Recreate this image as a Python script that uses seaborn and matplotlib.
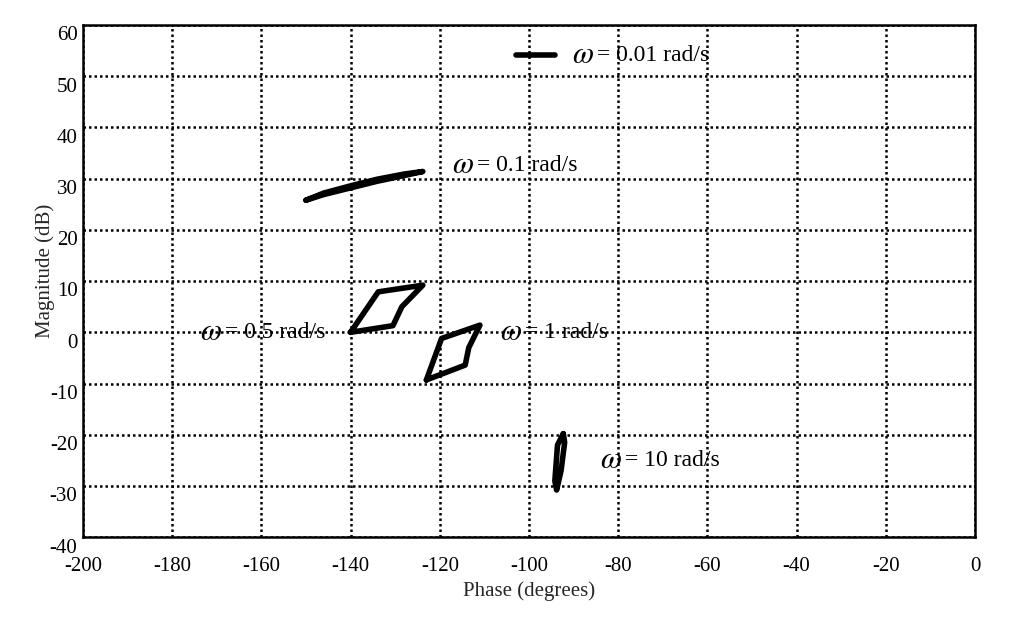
# packages
import numpy as np
import pandas as pd
import seaborn as sns
import matplotlib.pyplot as plt
import matplotlib.transforms as mtransforms

# curves (phase in deg, magnitude in dB)
phase_001 = [-103.0, -94.2]
mag_001 = [54.2, 54.2]

phase_01 = [-150.0, -146.0, -140.0, -134.0, -128.0, -123.8, -128.0, -134.0, -140.0, -146.0, -150.0]
mag_01 = [25.8, 26.9, 28.2, 29.5, 30.6, 31.4, 30.9, 29.9, 28.6, 27.2, 25.8]

phase_05 = [-140.0, -133.8, -123.8, -128.5, -130.5, -140.0]
mag_05 = [0.0, 7.9, 9.2, 5.0, 1.3, 0.0]

phase_1 = [-123.0, -119.6, -111.0, -113.5, -114.3, -123.0]
mag_1 = [-9.3, -1.2, 1.4, -3.0, -6.4, -9.3]

phase_10 = [-92.3, -92.0, -92.8, -93.8, -94.2, -93.6, -92.3]
mag_10 = [-19.8, -21.5, -27.0, -30.8, -29.0, -22.0, -19.8]

labels = ["= 0.01 rad/s", "= 0.1 rad/s", "= 0.5 rad/s", "= 1 rad/s", "= 10 rad/s"]
label_x = [-90.3, -117.3, -173.8, -106.5, -84.1]
label_y = [54.0, 32.5, 0.0, 0.0, -25.0]

xticks = np.arange(-200, 1, 20)
yticks = np.arange(-40, 61, 10)

# one long table for seaborn
frames = []
for name, ph, mg in [("0.01", phase_001, mag_001), ("0.1", phase_01, mag_01),
                     ("0.5", phase_05, mag_05), ("1", phase_1, mag_1), ("10", phase_10, mag_10)]:
    frames.append(pd.DataFrame({"phase": ph, "mag": mg, "curve": name}))
df = pd.concat(frames, ignore_index=True)

sns.set_style("white")
plt.rcParams["font.family"] = ["Liberation Serif", "DejaVu Serif"]
plt.rcParams["mathtext.fontset"] = "stix"
plt.rcParams["axes.unicode_minus"] = False

fig = plt.figure(figsize=(10.12, 6.21), dpi=100)
ax = fig.add_axes([0.082, 0.135, 0.8814, 0.8247])

sns.lineplot(data=df, x="phase", y="mag", units="curve", estimator=None, sort=False,
             color="black", linewidth=4, ax=ax, legend=False)

for txt, lx, ly in zip(labels, label_x, label_y):
    ax.text(lx, ly, r"$\omega$", fontsize=22, ha="left", va="center", color="black")
    ax.text(lx + 5.6, ly, txt, fontsize=17, ha="left", va="center", color="black")

ax.set_xlim(-200, 0)
ax.set_ylim(-40, 60)
ax.set_xticks(xticks)
ax.set_yticks(yticks)
ax.grid(True, color="black", linestyle=(0, (1, 1.2)), linewidth=1.8)
for sp in ax.spines.values():
    sp.set_visible(True)
    sp.set_color("black")
    sp.set_linewidth(1.8)
    sp.set_zorder(5)
ax.tick_params(direction="in", length=7, width=2.2, labelsize=15, colors="black")
ax.tick_params(axis="x", pad=14)
ax.tick_params(axis="y", pad=4)

# y labels sit just under their tick, as in the source figure
shift = mtransforms.ScaledTranslation(0, -1 / 72, fig.dpi_scale_trans)
for lab in ax.get_yticklabels():
    lab.set_va("top")
    lab.set_transform(lab.get_transform() + shift)

ax.set_xlabel("Phase (degrees)", fontsize=15, labelpad=4)
ax.set_ylabel("Magnitude (dB)", fontsize=15)
ax.yaxis.set_label_coords(-0.031, 0.52)

fig.savefig("out.png", dpi=100)
